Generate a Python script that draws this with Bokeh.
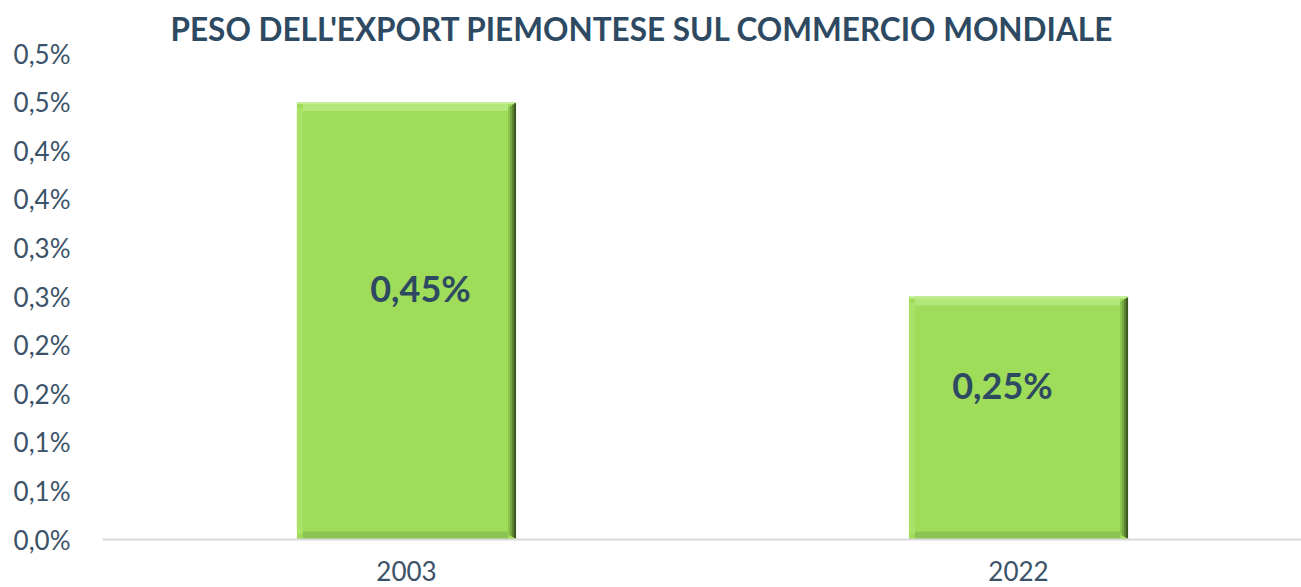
import numpy as np
from bokeh.plotting import figure
from bokeh.models import Range1d, FixedTicker, ColumnDataSource
from bokeh.embed import file_html
from bokeh.resources import INLINE
from bokeh.core.properties import value

# ---- data ----
categories = ["2003", "2022"]
shares = [0.45, 0.25]            # % of world trade
share_labels = ["0,45%", "0,25%"]
y_ticks = [0.0, 0.05, 0.10, 0.15, 0.20, 0.25, 0.30, 0.35, 0.40, 0.45, 0.50]
y_tick_labels = ["0,0%", "0,1%", "0,1%", "0,2%", "0,2%", "0,3%", "0,3%",
                 "0,4%", "0,4%", "0,5%", "0,5%"]
title = "PESO DELL'EXPORT PIEMONTESE SUL COMMERCIO MONDIALE"

# ---- style ----
FONT = "Lato"
TXT = "#2E4A62"
TICK = "#3B5268"
W, H = 1301, 587
LEFT, TOP, BOTTOM = 102, 53, 48
FRAME_W, FRAME_H = W - LEFT, H - TOP - BOTTOM
X0, X1 = -0.4967, 1.4624
Y0, Y1 = 0.0, 0.5
BAR_W = 0.358

px_x = (X1 - X0) / FRAME_W
px_y = (Y1 - Y0) / FRAME_H

p = figure(width=W, height=H, output_backend="svg", toolbar_location=None,
           x_range=Range1d(X0, X1), y_range=Range1d(Y0, Y1),
           min_border_left=LEFT, min_border_right=0,
           min_border_top=TOP, min_border_bottom=BOTTOM)
p.title.text = title
p.title.align = "left"
p.title.vertical_align = "top"
p.title.text_font = FONT
p.title.text_font_style = "bold"
p.title.text_font_size = "31.5px"
p.title.text_color = TXT
p.title.offset = 68
p.title.standoff = 8

xs = np.arange(len(categories), dtype=float)
v = np.array(shares, dtype=float)
L = xs - BAR_W / 2
R = xs + BAR_W / 2
zero = np.zeros_like(v)

# main bar body
p.quad(left=L, right=R, bottom=zero, top=v, fill_color="#9FDC5A", line_color=None)
# bevel: left highlight
p.quad(left=L, right=L + 6 * px_x, bottom=zero + 6 * px_y, top=v - 6 * px_y,
       fill_color="#A9E268", line_color=None)
# bevel: top highlight band
p.quad(left=L + 6 * px_x, right=R - 8 * px_x, bottom=v - 9 * px_y, top=v,
       fill_color="#B3E77C", line_color=None)
p.quad(left=L, right=R, bottom=v - 2 * px_y, top=v,
       fill_color="#C4EE95", line_color=None)
# bevel: bottom shadow band
p.quad(left=L + 6 * px_x, right=R - 8 * px_x, bottom=zero, top=zero + 8 * px_y,
       fill_color="#8BC452", line_color=None)
# bevel: right shadow (gradient strips)
for i, col in enumerate(["#8AC34F", "#74A540", "#5A8032", "#3C5521"]):
    p.quad(left=R - (8 - 2 * i) * px_x, right=R - (6 - 2 * i) * px_x,
           bottom=zero + (2 + 2 * (3 - i)) * px_y * 0.6,
           top=v - (2 + 2 * (3 - i)) * px_y * 0.6,
           fill_color=col, line_color=None)

# value labels
src = ColumnDataSource(dict(x=xs, y=v / 2, t=share_labels, dx=[14, -16]))
p.text(x="x", y="y", text="t", source=src, x_offset="dx", y_offset=-33,
       text_align="center", text_baseline="middle",
       text_font=value(FONT), text_font_style="bold", text_font_size="36px",
       text_color=TXT)

# axes
p.xaxis.ticker = FixedTicker(ticks=list(xs))
p.xaxis.major_label_overrides = {float(i): c for i, c in zip(xs, categories)}
p.xaxis.major_label_text_font = FONT
p.xaxis.major_label_text_font_size = "26px"
p.xaxis.major_label_text_color = TICK
p.xaxis.major_label_standoff = 15
p.xaxis.major_tick_line_color = None
p.xaxis.minor_tick_line_color = None
p.xaxis.axis_line_color = "#D9D9D9"
p.xaxis.axis_line_width = 2

p.yaxis.ticker = FixedTicker(ticks=y_ticks)
p.yaxis.major_label_overrides = {t: l for t, l in zip(y_ticks, y_tick_labels)}
p.yaxis.major_label_text_font = FONT
p.yaxis.major_label_text_font_size = "26px"
p.yaxis.major_label_text_color = TICK
p.yaxis.major_label_standoff = 26
p.yaxis.major_tick_line_color = None
p.yaxis.minor_tick_line_color = None
p.yaxis.axis_line_color = None

p.xgrid.grid_line_color = None
p.ygrid.grid_line_color = None
p.outline_line_color = None
p.background_fill_color = "white"
p.border_fill_color = "white"

open("out.html", "w").write(file_html(p, INLINE))
